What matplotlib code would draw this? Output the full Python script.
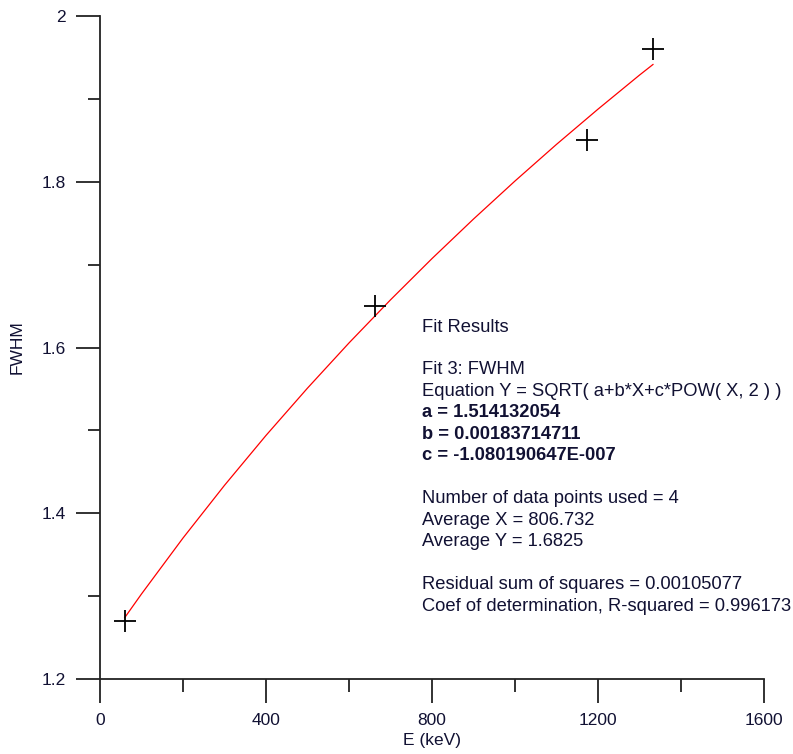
import matplotlib
matplotlib.use("Agg")
import matplotlib.pyplot as plt

# measured points
energy_kev = [59.54, 661.66, 1173.2, 1332.5]
fwhm = [1.27, 1.65, 1.85, 1.96]

# fitted curve
fit_x = [59.5, 100, 200, 300, 400, 500, 600, 700, 800, 900, 1000, 1100, 1200, 1300, 1332.5]
fit_y = [1.2740, 1.3026, 1.3701, 1.4337, 1.4939, 1.5510, 1.6055, 1.6575,
         1.7073, 1.7550, 1.8009, 1.8451, 1.8876, 1.9287, 1.9415]

x_major = [0, 400, 800, 1200, 1600]
x_minor = [200, 600, 1000, 1400]
y_major = [1.2, 1.4, 1.6, 1.8, 2.0]
y_minor = [1.3, 1.5, 1.7, 1.9]

fit_lines = [
    ("Fit Results", False),
    ("", False),
    ("Fit 3: FWHM", False),
    ("Equation Y = SQRT( a+b*X+c*POW( X, 2 ) )", False),
    ("a = 1.514132054", True),
    ("b = 0.00183714711", True),
    ("c = -1.080190647E-007", True),
    ("", False),
    ("Number of data points used = 4", False),
    ("Average X = 806.732", False),
    ("Average Y = 1.6825", False),
    ("", False),
    ("Residual sum of squares = 0.00105077", False),
    ("Coef of determination, R-squared = 0.996173", False),
]

plt.rcParams["font.family"] = ["Liberation Sans", "DejaVu Sans"]
txt_color = "#111133"

fig = plt.figure(figsize=(7.93, 7.54), dpi=100)
ax = fig.add_axes([100 / 793, 1 - 679 / 754, 664 / 793, 663 / 754])

ax.plot(fit_x, fit_y, color="red", lw=0.9, zorder=2)
ax.plot(energy_kev, fwhm, ls="none", marker="+", ms=16, mew=1.3, color="black", zorder=3)

ax.set_xlim(0, 1600)
ax.set_ylim(1.2, 2.0)
ax.set_xticks(x_major)
ax.set_xticks(x_minor, minor=True)
ax.set_yticks(y_major)
ax.set_yticks(y_minor, minor=True)
ax.set_xticklabels([f"{v:g}" for v in x_major])
ax.set_yticklabels([f"{v:g}" for v in y_major])

for side in ["top", "right"]:
    ax.spines[side].set_visible(False)
for side in ["left", "bottom"]:
    ax.spines[side].set_linewidth(1.3)
    ax.spines[side].set_color("#222222")

ax.tick_params(which="major", direction="out", length=17, width=1.3, color="#222222",
               labelsize=12.5, labelcolor=txt_color, pad=7.5)
ax.tick_params(which="minor", direction="out", length=9, width=1.3, color="#222222")

ax.set_xlabel("E (keV)", fontsize=12.5, color=txt_color, labelpad=3.5)
ax.set_ylabel("FWHM", fontsize=12.5, color=txt_color, labelpad=12)

# fit summary block
y0 = 0.5309
step = 0.0324
for i, (line, bold) in enumerate(fit_lines):
    if not line:
        continue
    ax.text(0.485, y0 - i * step, line, transform=ax.transAxes, fontsize=13.2,
            fontweight="bold" if bold else "normal", color=txt_color,
            ha="left", va="center")

fig.savefig("out.png", dpi=100)
